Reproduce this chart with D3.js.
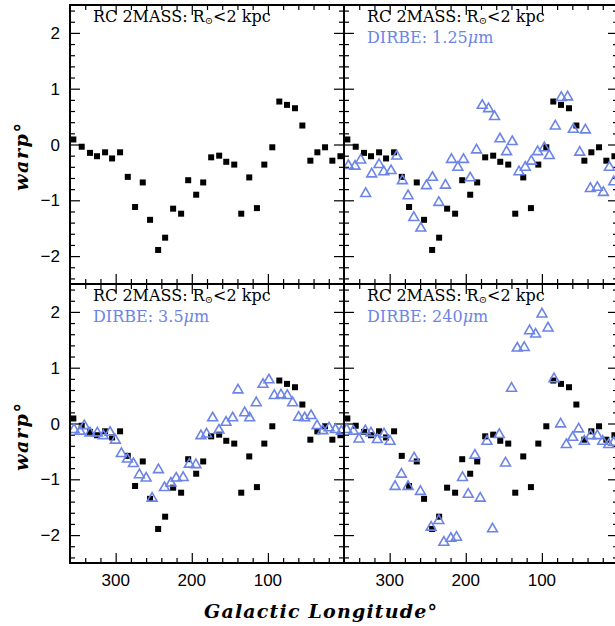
<!DOCTYPE html>
<html>
<head>
<meta charset="utf-8">
<script src="https://cdn.jsdelivr.net/npm/d3@7"></script>
<style>
  body { margin: 0; background: #fff; }
  svg { display: block; }
</style>
</head>
<body>
<div id="chart"></div>
<script>
// RC 2MASS (same set in every panel)
const rcLon  = [355.6, 344.6, 333.7, 324.5, 313.9, 304.7, 294.2, 284.1, 274.5, 264.4, 254.8, 244.2, 235, 224.5, 214, 204.7, 194.2, 185, 174.5, 164, 154.7, 144.2, 135, 124.5, 114.4, 104.7, 94.2, 85, 74.9, 64.4, 54.7, 44.2, 35, 24.9, 15.3, 4.7];
const rcWarp = [0.09, -0.04, -0.15, -0.21, -0.14, -0.25, -0.14, -0.58, -1.12, -0.68, -1.35, -1.89, -1.67, -1.15, -1.24, -0.64, -0.90, -0.68, -0.23, -0.20, -0.31, -0.36, -1.24, -0.59, -1.14, -0.36, -0.05, 0.77, 0.71, 0.65, 0.34, -0.29, -0.14, -0.05, -0.29, -0.21];

// DIRBE 1.25 micron
const j125Lon  = [354.3, 345.5, 338, 331.5, 323.6, 314, 307.8, 298.2, 290.7, 283.3, 275.8, 268.3, 259.1, 251.7, 243.8, 235.4, 226.7, 218.8, 210.4, 203, 194.2, 185.9, 178.4, 170.1, 162.2, 155.1, 146.4, 139, 130.1, 121.8, 113.9, 105.6, 96.8, 90.3, 82.4, 74.5, 66.2, 58.7, 50.3, 42.9, 36.3, 27.1, 19.2, 11.3, 5.6];
const j125Warp = [-0.38, -0.39, -0.28, -0.88, -0.53, -0.36, -0.49, -0.47, -0.21, -0.65, -0.92, -1.31, -1.50, -0.74, -0.59, -1.04, -0.73, -0.27, -0.41, -0.27, -0.60, -0.10, 0.70, 0.64, 0.50, 0.10, -0.13, 0.05, -0.49, -0.41, -0.30, -0.13, -0.06, -0.20, 0.33, 0.84, 0.85, 0.27, -0.14, 0.26, -0.79, -0.77, -0.86, -0.41, -0.67];

// DIRBE 3.5 micron
const l35Lon  = [354.7, 346.8, 341.2, 333.7, 324.1, 316.2, 307.4, 300.4, 292.5, 284.6, 276.7, 268.8, 260, 252.1, 243.8, 235.9, 227.5, 220.5, 211.3, 203.3, 194.6, 188, 180.6, 172.6, 164.3, 155, 146.3, 139.3, 130.5, 124, 115.3, 106.4, 98.6, 91.6, 82.8, 74.5, 67.5, 59.6, 51.7, 43.3, 35.4, 28, 19.6, 11.3, 3.4];
const l35Warp = [-0.11, -0.14, -0.04, -0.17, -0.17, -0.22, -0.16, -0.30, -0.54, -0.64, -0.72, -0.92, -0.98, -1.34, -0.83, -1.15, -1.07, -0.98, -0.97, -0.73, -0.74, -0.22, -0.19, 0.10, -0.12, 0.02, 0.10, 0.60, 0.19, 0.10, 0.37, 0.70, 0.78, 0.50, 0.51, 0.50, 0.37, 0.11, 0.10, 0.14, -0.04, -0.13, -0.08, -0.11, -0.14];

// DIRBE 240 micron
const f240Lon  = [356.5, 347.7, 340.3, 332, 324.5, 316.2, 307.4, 299.5, 292.9, 284.6, 275.8, 267.9, 259.6, 245.5, 235.4, 228.8, 219.6, 212.2, 204.3, 196.8, 188, 181, 172.2, 164.9, 156, 147.8, 139.9, 132.4, 123.2, 116.2, 108.3, 99.9, 91.9, 84.1, 75.4, 67.9, 59.6, 51.7, 44.2, 35.9, 27.1, 20.1, 12.2, 5.7];
const f240Warp = [-0.11, -0.14, -0.28, -0.13, -0.17, -0.29, -0.19, -0.32, -1.13, -0.91, -1.13, -0.62, -1.22, -1.86, -1.74, -2.13, -2.06, -2.04, -0.97, -1.27, -0.57, -1.34, -0.32, -1.89, -0.20, -0.71, 0.63, 1.35, 1.36, 1.66, 1.60, 1.96, 1.71, 0.80, -0.01, -0.38, -0.25, -0.10, -0.32, -0.22, -0.22, -0.32, -0.38, -0.34];

const xTicks = [300, 200, 100];
const yTicks = [-2, -1, 0, 1, 2];

const blue = "#6b84e6";
const panelW = 274, panelH = 279;
const left0 = 70, top0 = 5;

const panels = [
  { col: 0, row: 0, lon: null, warp: null, label: null },
  { col: 1, row: 0, lon: j125Lon, warp: j125Warp, label: "1.25" },
  { col: 0, row: 1, lon: l35Lon, warp: l35Warp, label: "3.5" },
  { col: 1, row: 1, lon: f240Lon, warp: f240Warp, label: "240" }
];

const svg = d3.select("#chart").append("svg")
  .attr("width", 615).attr("height", 626);

const x = d3.scaleLinear().domain([360, 0]).range([0, panelW]);
const y = d3.scaleLinear().domain([-2.5, 2.5]).range([panelH, 0]);

const defs = svg.append("defs");
defs.append("clipPath").attr("id", "clip")
  .append("rect").attr("width", panelW).attr("height", panelH);

panels.forEach(p => {
  const g = svg.append("g")
    .attr("transform", `translate(${left0 + p.col * panelW},${top0 + p.row * panelH})`);

  // ticks, inward on all four sides
  const xMin = d3.range(20, 360, 20).filter(v => v % 100 !== 0);
  const yMin = d3.range(-2.4, 2.5, 0.2).map(v => +v.toFixed(1)).filter(v => !Number.isInteger(v));

  const tickG = g.append("g").attr("class", "ticks");
  tickG.append("g").attr("transform", `translate(0,${panelH})`)
    .call(d3.axisBottom(x).tickValues(xTicks).tickSize(-10).tickFormat(""));
  tickG.append("g").attr("transform", `translate(0,${panelH})`)
    .call(d3.axisBottom(x).tickValues(xMin).tickSize(-5).tickFormat(""));
  tickG.append("g").call(d3.axisTop(x).tickValues(xTicks).tickSize(-10).tickFormat(""));
  tickG.append("g").call(d3.axisTop(x).tickValues(xMin).tickSize(-5).tickFormat(""));
  tickG.append("g").call(d3.axisLeft(y).tickValues(yTicks).tickSize(-10).tickFormat(""));
  tickG.append("g").call(d3.axisLeft(y).tickValues(yMin).tickSize(-5).tickFormat(""));
  tickG.append("g").attr("transform", `translate(${panelW},0)`)
    .call(d3.axisRight(y).tickValues(yTicks).tickSize(-10).tickFormat(""));
  tickG.append("g").attr("transform", `translate(${panelW},0)`)
    .call(d3.axisRight(y).tickValues(yMin).tickSize(-5).tickFormat(""));
  tickG.selectAll(".domain").remove();
  tickG.selectAll("line").attr("stroke", "#000").attr("stroke-width", 1.2);

  // tick labels
  if (p.row === 1) {
    g.selectAll(".xlab").data(xTicks).enter().append("text")
      .attr("x", d => x(d)).attr("y", panelH + 23)
      .attr("text-anchor", "middle")
      .style("font-family", "Liberation Sans, Arial, sans-serif")
      .style("font-size", "17px")
      .text(d => d);
  }
  if (p.col === 0) {
    g.selectAll(".ylab").data(yTicks).enter().append("text")
      .attr("x", -10).attr("y", d => y(d)).attr("dy", "0.36em")
      .attr("text-anchor", "end")
      .style("font-family", "Liberation Sans, Arial, sans-serif")
      .style("font-size", "17px")
      .text(d => d < 0 ? "\u2212" + Math.abs(d) : d);
  }

  // markers
  const marks = g.append("g").attr("clip-path", "url(#clip)");
  marks.selectAll(".rc").data(d3.zip(rcLon, rcWarp)).enter().append("rect")
    .attr("x", d => x(d[0]) - 3).attr("y", d => y(d[1]) - 3)
    .attr("width", 6).attr("height", 6).attr("fill", "#000");

  if (p.lon) {
    const tri = d3.symbol().type(d3.symbolTriangle).size(42);
    marks.selectAll(".dirbe").data(d3.zip(p.lon, p.warp)).enter().append("path")
      .attr("d", tri)
      .attr("transform", d => `translate(${x(d[0])},${y(d[1])})`)
      .attr("fill", "none").attr("stroke", blue).attr("stroke-width", 1.6);
  }

  // frame
  g.append("rect").attr("width", panelW).attr("height", panelH)
    .attr("fill", "none").attr("stroke", "#000").attr("stroke-width", 2);

  // legend text
  const t = g.append("text")
    .attr("x", 23).attr("y", 17)
    .style("font-family", "DejaVu Serif, serif")
    .style("font-size", "16px");
  t.append("tspan").text("RC 2MASS: R");
  t.append("tspan").attr("dy", 2).style("font-size", "10px").text("\u2299");
  t.append("tspan").attr("dy", -2).text("<2 kpc");

  if (p.label) {
    const t2 = g.append("text")
      .attr("x", 23).attr("y", 38)
      .attr("fill", blue)
      .style("font-family", "DejaVu Serif, serif")
      .style("font-size", "16px");
    t2.append("tspan").text("DIRBE: " + p.label);
    t2.append("tspan").style("font-style", "italic").text("\u03bc");
    t2.append("tspan").text("m");
  }
});

// axis titles
svg.append("text")
  .attr("x", 204).attr("y", 618)
  .attr("textLength", 233).attr("lengthAdjust", "spacing")
  .style("font-family", "DejaVu Serif, serif")
  .style("font-weight", "bold").style("font-style", "italic")
  .style("font-size", "19px")
  .text("Galactic Longitude\u00b0");

[157, 437].forEach(cy => {
  svg.append("text")
    .attr("transform", `translate(28,${cy}) rotate(-90)`)
    .attr("text-anchor", "middle")
    .attr("textLength", 68).attr("lengthAdjust", "spacing")
    .style("font-family", "DejaVu Serif, serif")
    .style("font-weight", "bold").style("font-style", "italic")
    .style("font-size", "19px")
    .text("warp\u00b0");
});
</script>
</body>
</html>
